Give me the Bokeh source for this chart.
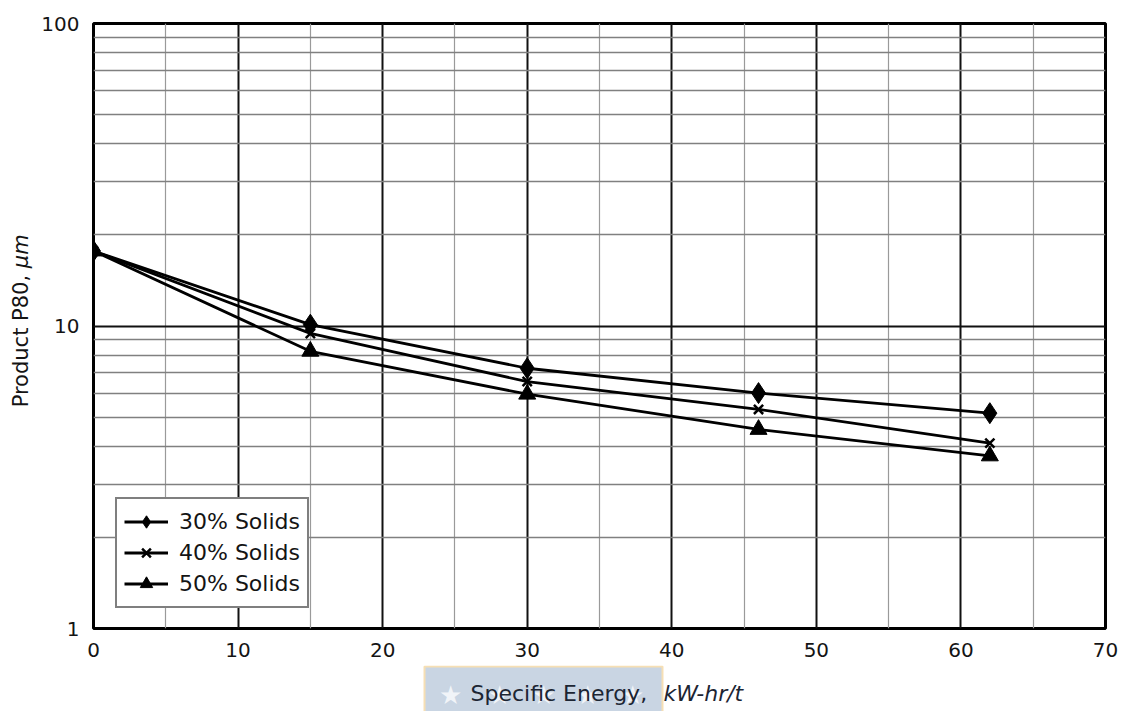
import math
from bokeh.plotting import figure
from bokeh.layouts import column, row
from bokeh.models import (Range1d, FixedTicker, PrintfTickFormatter, Legend, LegendItem)
from bokeh.core.properties import value
from bokeh.embed import file_html
from bokeh.resources import INLINE

# ---- data ----
energy = [0, 15, 30, 46, 62]
p80_30 = [17.7, 10.1, 7.25, 6.0, 5.15]
p80_40 = [17.7, 9.45, 6.55, 5.3, 4.1]
p80_50 = [17.7, 8.25, 5.95, 4.55, 3.72]
series_labels = ["30% Solids", "40% Solids", "50% Solids"]
x_ticks = [0, 10, 20, 30, 40, 50, 60, 70]
x_minor = [5, 15, 25, 35, 45, 55, 65]
y_ticks = [1, 10, 100]
y_minor = [2, 3, 4, 5, 6, 7, 8, 9, 20, 30, 40, 50, 60, 70, 80, 90]
x_title = ["Specific Energy, ", "kW-hr/t"]
y_title = ["Product P80, ", "\u03bcm"]

FONT = "DejaVu Sans"
INK = "#141414"
W, H = 1126, 711
LEFT_W = 35          # width of the y-title strip
BOTTOM_H = 46        # height of the x-title strip
MAIN_H = H - BOTTOM_H

# ---------------- main chart ----------------
fig = figure(width=W - LEFT_W, height=MAIN_H, y_axis_type="log",
             x_range=Range1d(0, 70), y_range=Range1d(1, 100),
             output_backend="svg", toolbar_location=None,
             min_border_left=93 - LEFT_W, min_border_right=21,
             min_border_top=23, min_border_bottom=MAIN_H - 628)
fig.background_fill_color = "white"
fig.border_fill_color = "white"
fig.outline_line_color = "black"
fig.outline_line_width = 3

fig.xaxis.ticker = FixedTicker(ticks=x_ticks)
fig.yaxis.ticker = FixedTicker(ticks=y_ticks)
fig.yaxis.formatter = PrintfTickFormatter(format="%d")
for ax in (fig.xaxis, fig.yaxis):
    ax.axis_line_color = None
    ax.major_tick_line_color = None
    ax.minor_tick_line_color = None
    ax.major_tick_in = 0
    ax.major_tick_out = 0
    ax.minor_tick_in = 0
    ax.minor_tick_out = 0
    ax.major_label_text_font = FONT
    ax.major_label_text_font_size = "20px"
    ax.major_label_text_color = INK
fig.xaxis.major_label_standoff = 14
fig.yaxis.major_label_standoff = 14

fig.xgrid.ticker = FixedTicker(ticks=x_ticks, minor_ticks=x_minor)
fig.xgrid.grid_line_color = "#111111"
fig.xgrid.grid_line_width = 2
fig.xgrid.minor_grid_line_color = "#9a9a9a"
fig.xgrid.minor_grid_line_width = 1.2
fig.ygrid.ticker = FixedTicker(ticks=y_ticks, minor_ticks=y_minor)
fig.ygrid.grid_line_color = "#111111"
fig.ygrid.grid_line_width = 2
fig.ygrid.minor_grid_line_color = "#808080"
fig.ygrid.minor_grid_line_width = 1.4

items = []
specs = [(p80_30, "diamond", 21), (p80_40, "x", 13), (p80_50, "triangle", 17)]
for (vals, marker, size), lab in zip(specs, series_labels):
    ln = fig.line(energy, vals, line_color="black", line_width=2.8)
    sc = fig.scatter(energy, vals, marker=marker, size=size, fill_color="black",
                     line_color="black", line_width=2.5 if marker == "x" else 1)
    items.append(LegendItem(label=lab, renderers=[ln, sc]))

legend = Legend(items=items, location=(22, 20), orientation="vertical")
legend.label_text_font = FONT
legend.label_text_font_size = "22px"
legend.label_text_color = INK
legend.glyph_width = 44
legend.glyph_height = 31
legend.label_height = 31
legend.label_standoff = 11
legend.spacing = 0
legend.padding = 7
legend.margin = 0
legend.border_line_color = "black"
legend.border_line_width = 2.5
legend.background_fill_color = "white"
legend.background_fill_alpha = 1
fig.add_layout(legend, "center")


def strip(width, height, xr, yr):
    s = figure(width=width, height=height, x_range=xr, y_range=yr,
               output_backend="svg", toolbar_location=None,
               x_axis_location=None, y_axis_location=None,
               min_border=0, min_border_left=0, min_border_right=0,
               min_border_top=0, min_border_bottom=0)
    s.outline_line_color = None
    s.background_fill_color = "white"
    s.border_fill_color = "white"
    s.xgrid.visible = False
    s.ygrid.visible = False
    return s


# ---------------- y-title strip (pixel-like coordinates, y downward) ----------------
yfig = strip(LEFT_W, MAIN_H, Range1d(0, LEFT_W), Range1d(MAIN_H, 0))
yfig.text(x=[20], y=[269], text=[y_title[0]], angle=math.pi / 2,
          text_font=value(FONT), text_font_size="21px", text_color=INK,
          text_align="right", text_baseline="middle")
yfig.text(x=[20], y=[269], text=[y_title[1]], angle=math.pi / 2,
          text_font=value(FONT), text_font_size="21px", text_color=INK,
          text_font_style="italic", text_align="left", text_baseline="middle")

# ---------------- x-title strip (page coordinates) ----------------
xfig = strip(W, BOTTOM_H, Range1d(0, W), Range1d(H, MAIN_H))
xfig.quad(left=[424], right=[662], top=[MAIN_H + 1], bottom=[716],
          fill_color="#c9d5e3", line_color="#f6dfb4", line_width=2)
xfig.text(x=[450, 499, 543, 587, 632], y=[694] * 5, text=["★"] * 5,
          text_color="white", text_alpha=0.75, text_font_size="26px",
          text_align="center", text_baseline="middle")
xfig.text(x=[470], y=[693], text=[x_title[0]], text_font=value(FONT),
          text_font_size="22px", text_color="#1c2533",
          text_align="left", text_baseline="middle")
xfig.text(x=[663], y=[693], text=[x_title[1]], text_font=value(FONT),
          text_font_size="22px", text_color="#1c2533", text_font_style="italic",
          text_align="left", text_baseline="middle")

p = column(row(yfig, fig), xfig)
open("out.html", "w").write(file_html(p, INLINE))
